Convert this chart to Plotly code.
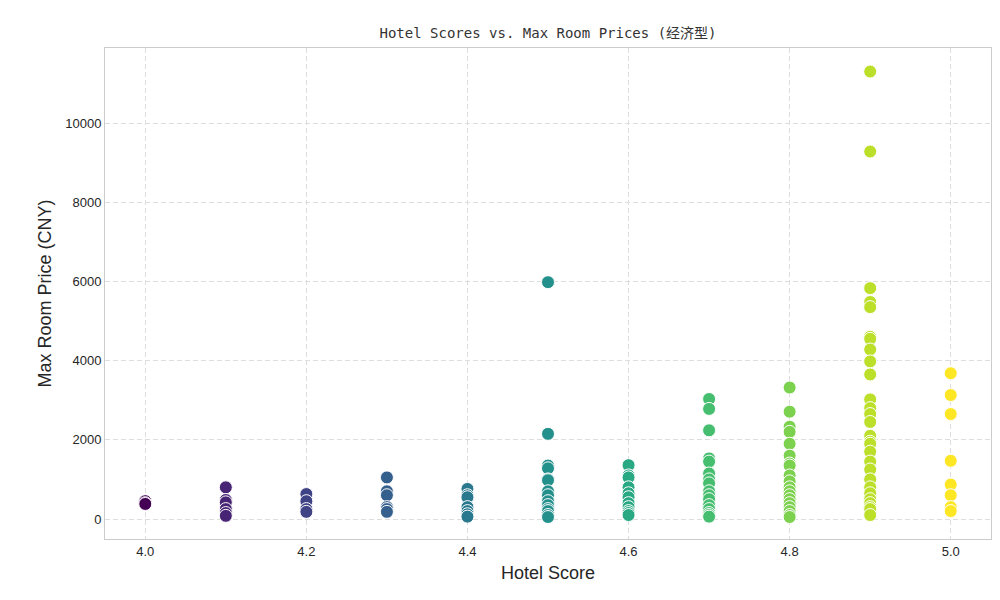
import plotly.graph_objects as go

# scores and max room prices
s40 = [450, 400, 380]
s41 = [800, 480, 420, 250, 150, 80]
s42 = [630, 450, 250, 180]
s43 = [1050, 700, 600, 300, 250, 180]
s44 = [760, 600, 550, 300, 200, 120, 60]
s45 = [5980, 2150, 1350, 1280, 1000, 980, 700, 600, 450, 350, 250, 200, 100, 50]
s46 = [1360, 1100, 1050, 800, 650, 550, 400, 300, 200, 150, 100]
s47 = [3030, 2780, 2240, 1530, 1450, 1150, 1000, 900, 700, 600, 500, 350, 250, 150, 100, 60]
s48 = [3320, 2710, 2330, 2200, 1900, 1600, 1400, 1350, 1100, 950, 800, 700, 600, 500, 400, 300, 200, 100, 50]
s49 = [11300, 9280, 5830, 5480, 5350, 4600, 4550, 4280, 3980, 3650, 3020, 2800, 2650, 2450, 2100, 1950, 1900,
       1700, 1450, 1250, 1000, 800, 650, 500, 400, 300, 250, 100]
s50 = [3680, 3130, 2650, 1470, 870, 600, 300, 200]

groups = [(4.0, s40), (4.1, s41), (4.2, s42), (4.3, s43), (4.4, s44), (4.5, s45),
          (4.6, s46), (4.7, s47), (4.8, s48), (4.9, s49), (5.0, s50)]

xs, ys = [], []
for sc, vals in groups:
    for v in vals:
        xs.append(sc)
        ys.append(v)

fig = go.Figure(go.Scatter(
    x=xs, y=ys, mode="markers",
    marker=dict(size=13, color=xs, colorscale="Viridis", cmin=4.0, cmax=5.0,
                line=dict(color="white", width=1)),
    showlegend=False,
))

fig.update_layout(
    width=1000, height=600,
    paper_bgcolor="white", plot_bgcolor="white",
    margin=dict(l=97, r=17, t=40, b=69),
    title=dict(text="Hotel Scores vs. Max Room Prices (经济型)", x=0.54, y=0.967,
               font=dict(family="DejaVu Sans Mono, Noto Sans CJK SC", size=14, color="#333")),
    font=dict(family="Liberation Sans, Arial", color="#262626"),
)
fig.update_xaxes(range=[3.95, 5.05], tickvals=[4.0, 4.2, 4.4, 4.6, 4.8, 5.0], ticktext=["4.0", "4.2", "4.4", "4.6", "4.8", "5.0"],
                 title=dict(text="Hotel Score", font=dict(size=18), standoff=8), tickfont=dict(size=13),
                 showgrid=True, gridcolor="#dddddd", griddash="5px,3px", zeroline=False, automargin=False,
                 showline=True, linecolor="#cccccc", mirror=True, ticks="")
fig.update_yaxes(range=[-505, 11894], tickvals=[0, 2000, 4000, 6000, 8000, 10000],
                 ticktext=["0", "2000", "4000", "6000", "8000", "10000"],
                 title=dict(text="Max Room Price (CNY)", font=dict(size=18), standoff=8), tickfont=dict(size=13),
                 showgrid=True, gridcolor="#dddddd", griddash="5px,3px", zeroline=False, automargin=False,
                 showline=True, linecolor="#cccccc", mirror=True, ticks="")

fig.write_html("out.html")
